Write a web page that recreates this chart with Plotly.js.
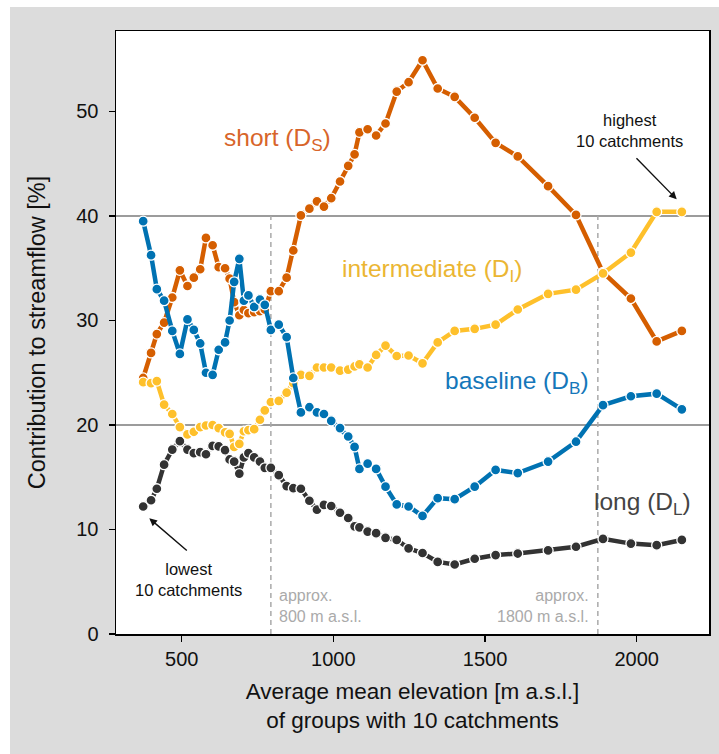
<!DOCTYPE html>
<html><head><meta charset="utf-8">
<script src="https://cdn.plot.ly/plotly-3.0.1.min.js"></script>
<style>html,body{margin:0;padding:0;background:#fff}</style>
</head><body><div id="chart" style="width:719px;height:754px"></div>
<script>
// Average mean elevation of each group of 10 catchments [m a.s.l.]
const elevation = [373,399,418,442,469,494,519,540,561,580,602,622,643,658,673,690,705,720,739,758,774,794,820,846,868,893,921,946,969,993,1022,1049,1070,1086,1113,1141,1172,1209,1248,1294,1344,1400,1466,1535,1608,1708,1800,1889,1981,2066,2149];
// Contribution to streamflow [%]
const baseline = [39.5,36.25,33.0,31.9,29.0,26.8,30.1,29.1,27.8,25.0,24.8,27.2,27.9,30.0,33.7,35.9,31.9,32.4,31.3,32.0,31.5,29.1,29.6,28.4,24.5,21.2,21.7,21.2,21.05,20.4,19.7,18.9,17.9,15.8,16.3,15.8,14.1,12.4,12.2,11.3,13.0,12.9,14.1,15.7,15.4,16.5,18.4,21.9,22.75,23.0,21.5];
const shortFlow = [24.5,26.9,28.7,29.8,32.2,34.8,33.3,34.1,34.9,37.9,37.2,35.1,35.0,34.0,31.75,30.5,31.0,30.7,30.8,30.9,31.05,32.8,32.8,34.1,36.7,40.05,40.7,41.4,40.9,41.7,43.3,44.8,45.9,48.0,48.3,47.7,48.85,51.9,52.8,54.9,52.2,51.4,49.4,47.0,45.7,42.85,40.1,34.6,32.1,28.0,29.0];
const intermediate = [24.1,24.0,24.2,21.95,21.05,19.8,19.1,19.35,19.8,19.95,20.0,19.7,19.3,19.15,17.9,18.2,19.4,19.5,19.6,20.5,21.4,22.2,22.3,23.1,24.0,24.8,24.7,25.5,25.5,25.5,25.2,25.3,25.6,25.8,25.5,26.7,27.6,26.6,26.65,25.9,27.9,29.0,29.2,29.6,31.05,32.55,32.95,34.5,36.5,40.4,40.4];
const longFlow = [12.2,12.8,13.9,16.2,17.65,18.45,17.65,17.3,17.4,17.2,18.0,17.95,17.6,16.7,16.5,15.35,16.9,17.3,16.9,16.5,15.9,15.9,15.2,14.15,13.95,13.9,12.75,11.9,12.35,12.25,11.6,11.1,10.3,10.2,9.8,9.65,9.2,9.0,8.2,7.75,6.9,6.65,7.2,7.55,7.7,8.0,8.35,9.1,8.65,8.5,9.0];

const yTicks = [0,10,20,30,40,50];
const xTicks = [500,1000,1500,2000];
const refLines = [20,40];
const thresholds = [794,1872];

const C = {short:'#D55E00', inter:'#FEC02B', base:'#0072B2', long:'#333333'};
const FONT = '"Liberation Sans", Arial, Helvetica, sans-serif';

function series(y, color){
  return {x: elevation, y: y, type:'scatter', mode:'lines+markers',
    line:{color:color, width:4.5},
    marker:{color:color, size:10, line:{color:'#ffffff', width:1.3}},
    hoverinfo:'skip', showlegend:false};
}
const traces = [series(longFlow,C.long), series(shortFlow,C.short), series(intermediate,C.inter), series(baseline,C.base)];

// pixel -> paper helpers (plot area: x 116..709, y 31..634)
const W = 593, H = 603;
const px = v => (v-116)/W, py = v => (634-v)/H;

const shapes = [
  {type:'rect', xref:'paper', yref:'paper', x0:px(10), x1:px(719), y0:py(754), y1:py(7), fillcolor:'#dcdcdc', line:{width:0}, layer:'below'},
  {type:'rect', xref:'paper', yref:'paper', x0:0, x1:1, y0:0, y1:1, fillcolor:'#ffffff', line:{width:0}, layer:'below'}
];
refLines.forEach(v => shapes.push({type:'line', xref:'paper', yref:'y', x0:0, x1:1, y0:v, y1:v, line:{color:'#3a3a3a', width:1.1}, layer:'below'}));
thresholds.forEach(v => shapes.push({type:'line', xref:'x', yref:'y', x0:v, x1:v, y0:0, y1:40, line:{color:'#aaaaaa', width:1.5, dash:'5px,4px'}, layer:'below'}));

function label(text, x, y, color, xanchor){
  return {text:text, xref:'paper', yref:'paper', x:px(x), y:py(y), xanchor:xanchor||'left', yanchor:'middle', showarrow:false, font:{family:FONT, size:24.5, color:color}};
}
const annotations = [
  label('short (D<sub>S</sub>)', 222, 140, '#D8652A'),
  label('intermediate (D<sub>I</sub>)', 339.5, 270, '#EBB633'),
  label('baseline (D<sub>B</sub>)', 443, 382, '#1577BA'),
  label('long (D<sub>L</sub>)', 592, 503, '#444444'),
  {text:'lowest<br>10 catchments', xref:'paper', yref:'paper', x:px(188.5), y:py(579), xanchor:'center', yanchor:'middle', showarrow:false, font:{family:FONT, size:16.5, color:'#111'}},
  {text:'highest<br>10 catchments', xref:'paper', yref:'paper', x:px(629.5), y:py(130), xanchor:'center', yanchor:'middle', showarrow:false, font:{family:FONT, size:16.5, color:'#111'}},
  {text:'approx.<br>800 m a.s.l.', xref:'paper', yref:'paper', x:px(277), y:py(606), xanchor:'left', yanchor:'middle', align:'left', showarrow:false, font:{family:FONT, size:16, color:'#aaaaaa'}},
  {text:'approx.<br>1800 m a.s.l.', xref:'paper', yref:'paper', x:px(591), y:py(606), xanchor:'right', yanchor:'middle', align:'right', showarrow:false, font:{family:FONT, size:16, color:'#aaaaaa'}},
  {text:'', xref:'paper', yref:'paper', x:px(149.3), y:py(518.3), ax:39, ay:33.4, showarrow:true, arrowhead:2, arrowsize:1.1, arrowwidth:1.4, arrowcolor:'#111', standoff:0},
  {text:'', xref:'paper', yref:'paper', x:px(676.7), y:py(199.3), ax:-41.7, ay:-42.6, showarrow:true, arrowhead:2, arrowsize:1.1, arrowwidth:1.4, arrowcolor:'#111', standoff:0}
];

const layout = {
  width:719, height:754,
  margin:{l:116, r:10, t:31, b:120},
  paper_bgcolor:'#ffffff', plot_bgcolor:'rgba(0,0,0,0)',
  font:{family:FONT, color:'#111'},
  showlegend:false,
  xaxis:{range:[283.4,2238.5], tickvals:xTicks, ticktext:xTicks.map(String), ticks:'outside', ticklen:6, tickcolor:'#000', tickwidth:1.2,
    showline:true, linecolor:'#000', linewidth:1.5, mirror:true, showgrid:false, zeroline:false,
    tickfont:{family:FONT, size:20, color:'#111'},
    title:{text:'Average mean elevation [m a.s.l.]<br>of groups with 10 catchments', font:{family:FONT, size:22.5, color:'#111'}, standoff:14}},
  yaxis:{range:[0,57.7], tickvals:yTicks, ticktext:yTicks.map(String), ticks:'outside', ticklen:6, tickcolor:'#000', tickwidth:1.2,
    showline:true, linecolor:'#000', linewidth:1.5, mirror:true, showgrid:false, zeroline:false,
    tickfont:{family:FONT, size:20, color:'#111'}, ticklabelstandoff:6,
    title:{text:'Contribution to streamflow [%]', font:{family:FONT, size:23.5, color:'#111'}, standoff:24}},
  shapes:shapes, annotations:annotations
};
Plotly.newPlot('chart', traces, layout, {displayModeBar:false, staticPlot:true});
</script></body></html>
